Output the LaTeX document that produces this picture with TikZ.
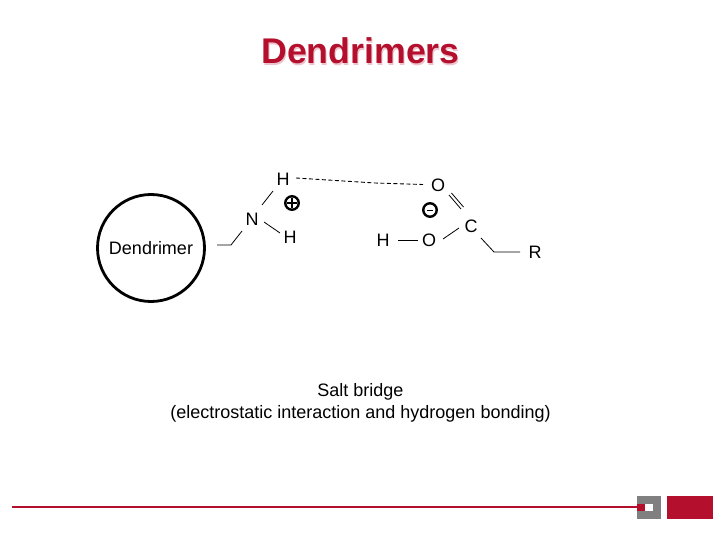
\documentclass[tikz,border=0pt]{standalone}
\usepackage{fontspec}
\setmainfont{Liberation Sans}
\definecolor{brandred}{RGB}{180,16,46}
\definecolor{brandgray}{RGB}{128,128,128}
\tikzset{
  lbl/.style={inner sep=0pt,font=\fontsize{18}{20}\selectfont,text=black},
  captiontext/.style={inner sep=0pt,font=\fontsize{18}{22}\selectfont,text=black,align=center},
  bond/.style={draw=black,line width=0.8pt},
  hb/.style={draw=black,line width=0.9pt,dash pattern=on 4pt off 2.5pt},
  chg/.style={circle,draw=black,line width=2.4pt,minimum size=13.5pt,inner sep=0pt}
}
\begin{document}
\begin{tikzpicture}[x=1pt,y=-1pt]
\useasboundingbox (0,0) rectangle (720,540);
\fill[white] (0,0) rectangle (720,540);
\node[inner sep=0pt,font=\bfseries\fontsize{35.7}{38}\selectfont,text=brandred!25] at (361.5,52.5) {Dendrimers};
\node[inner sep=0pt,font=\bfseries\fontsize{35.7}{38}\selectfont,text=brandred] (title) at (360.5,51) {Dendrimers};
\node[circle,draw=black,line width=2.8pt,minimum size=107pt,inner sep=0pt] (core) at (151,248) {};
\node[lbl] (dlabel) at (151,248) {Dendrimer};
\node[lbl] (N) at (252,219) {N};
\node[lbl] (H1) at (283,179) {H};
\node[lbl] (H2) at (290,237) {H};
\node[lbl] (H3) at (383,240) {H};
\node[lbl] (O1) at (438,185) {O};
\node[lbl] (O2) at (429,240) {O};
\node[lbl] (C) at (471,226) {C};
\node[lbl] (R) at (535,252) {R};
\node[chg] (plus) at (292,203) {};
\draw[line width=1.3pt] (287,203) -- (297,203) (292,198) -- (292,208);
\node[chg] (minus) at (430,210) {};
\draw[line width=1.3pt] (427,210.5) -- (433,210.5);
\coordinate (c0) at (217,245);
\coordinate (c1) at (231,245);
\coordinate (c2) at (242,231);
\coordinate (c3) at (262,205);
\coordinate (c4) at (273,191);
\coordinate (c5) at (264,222);
\coordinate (c6) at (280,233);
\coordinate (c7) at (296,178);
\coordinate (c8) at (375,183);
\coordinate (c9) at (423,184.5);
\coordinate (c10) at (398,240);
\coordinate (c11) at (418,240);
\coordinate (c12) at (443,239);
\coordinate (c13) at (459,228);
\coordinate (c14) at (449,195);
\coordinate (c15) at (461,209);
\coordinate (c16) at (451.5,193);
\coordinate (c17) at (463.5,207);
\coordinate (c18) at (481,238);
\coordinate (c19) at (494,252);
\coordinate (c20) at (520,252);
\draw[bond] (c0) -- (c1) -- (c2);
\draw[bond] (c3) -- (c4);
\draw[bond] (c5) -- (c6);
\draw[hb] (c7) -- (c8) -- (c9);
\draw[bond] (c10) -- (c11);
\draw[bond] (c12) -- (c13);
\draw[bond] (c14) -- (c15);
\draw[bond] (c16) -- (c17);
\draw[bond] (c18) -- (c19) -- (c20);
\node[captiontext] (caption) at (360.5,402.5) {Salt bridge\\(electrostatic interaction and hydrogen bonding)};
\fill[brandgray] (637,496) rectangle (661,519);
\fill[white] (645,504) rectangle (653,511);
\fill[brandred] (637,504) rectangle (645,511);
\fill[brandred] (667,496) rectangle (713,519);
\coordinate (ruleL) at (12,507);
\coordinate (ruleR) at (638,507);
\draw[brandred,line width=1.3pt] (ruleL) -- (ruleR);
\end{tikzpicture}
\end{document}
